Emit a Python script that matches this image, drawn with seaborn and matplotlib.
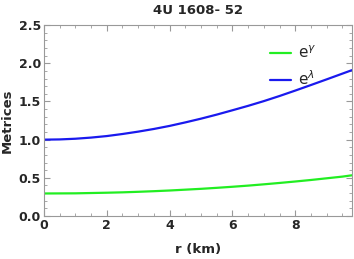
import numpy as np
import pandas as pd
import matplotlib.pyplot as plt
import seaborn as sns
from matplotlib.ticker import MultipleLocator

# values
r_km = [0, 0.5, 1, 1.5, 2, 2.5, 3, 3.5, 4, 4.5, 5, 5.5, 6, 6.5, 7, 7.5, 8, 8.5, 9, 9.5, 9.8]
e_gamma = [0.295, 0.296, 0.297, 0.301, 0.305, 0.310, 0.317, 0.325, 0.334, 0.345, 0.356, 0.369,
           0.383, 0.398, 0.415, 0.433, 0.452, 0.472, 0.494, 0.516, 0.533]
e_lambda = [1.0, 1.003, 1.012, 1.027, 1.047, 1.074, 1.105, 1.14, 1.18, 1.226, 1.275, 1.328,
            1.385, 1.443, 1.505, 1.572, 1.643, 1.716, 1.79, 1.865, 1.91]

df = pd.DataFrame({'r': r_km * 2,
                   'value': e_gamma + e_lambda,
                   'metric': [r'$\mathrm{e}^{\gamma}$'] * len(r_km) + [r'$\mathrm{e}^{\lambda}$'] * len(r_km)})

sns.set_style('ticks')
plt.rcParams['font.family'] = ['DejaVu Sans']

fig = plt.figure(figsize=(3.54, 2.59), dpi=100)
ax = fig.add_axes([0.124, 0.166, 0.870, 0.737])
sns.lineplot(data=df, x='r', y='value', hue='metric',
             palette=['#22ee22', '#1a1aee'], linewidth=1.6, ax=ax)

ax.set_xlim(0, 9.8)
ax.set_ylim(0, 2.5)
ax.xaxis.set_major_locator(MultipleLocator(2))
ax.xaxis.set_minor_locator(MultipleLocator(0.5))
ax.yaxis.set_major_locator(MultipleLocator(0.5))
ax.yaxis.set_minor_locator(MultipleLocator(0.1))
ax.tick_params(which='both', direction='in', top=True, right=True, color='#999999',
               labelsize=9, pad=2)
ax.tick_params(which='major', length=4)
ax.tick_params(which='minor', length=2)
for lab in ax.get_xticklabels() + ax.get_yticklabels():
    lab.set_fontweight('bold')
for s in ax.spines.values():
    s.set_color('#999999')
    s.set_linewidth(0.8)

ax.set_xlabel('r (km)', fontweight='bold', fontsize=9.5, labelpad=8)
ax.set_ylabel('Metrices', fontweight='bold', fontsize=9.5, labelpad=4)
ax.set_title('4U 1608- 52', fontweight='bold', fontsize=9.5, pad=8)

leg = ax.legend(loc='upper right', bbox_to_anchor=(0.93, 0.97), frameon=False,
                fontsize=11, handlelength=1.35, handletextpad=0.5, labelspacing=0.55)

fig.savefig('out.png', dpi=100)
